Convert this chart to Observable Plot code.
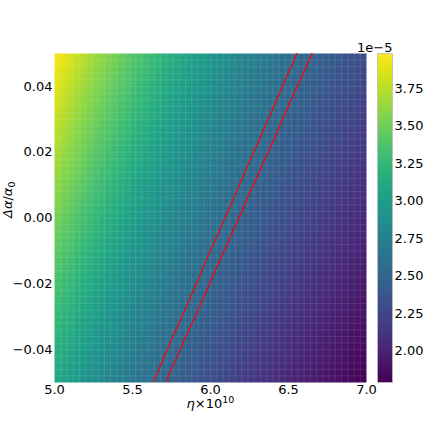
<!DOCTYPE html>
<html><head><meta charset="utf-8">
<script src="https://cdn.jsdelivr.net/npm/d3@7"></script>
<script src="https://cdn.jsdelivr.net/npm/@observablehq/plot@0.6"></script>
<style>
body{margin:0;background:#fff;}
#chart{position:relative;width:436px;height:436px;font-family:"DejaVu Sans",sans-serif;}
#chart svg{position:absolute;top:0;}
</style></head><body><div id="chart"></div>
<script>
// eta x 10^10 sample positions
const etaValues = [5.0, 5.25, 5.5, 5.75, 6.0, 6.25, 6.5, 6.75, 7.0];
// Delta alpha / alpha_0 sample positions
const alphaValues = [-0.05, -0.025, 0, 0.025, 0.05];
// D/H (units of 1e-5), rows follow alphaValues, columns follow etaValues
const dhRowM050 = [3.106, 2.867, 2.656, 2.469, 2.303, 2.154, 2.020, 1.898, 1.789];
const dhRowM025 = [3.317, 3.062, 2.838, 2.638, 2.460, 2.301, 2.157, 2.028, 1.910];
const dhRow000  = [3.534, 3.262, 3.022, 2.810, 2.620, 2.451, 2.299, 2.160, 2.036];
const dhRowP025 = [3.756, 3.468, 3.213, 2.987, 2.786, 2.605, 2.443, 2.296, 2.163];
const dhRowP050 = [3.984, 3.678, 3.407, 3.168, 2.954, 2.763, 2.591, 2.435, 2.294];
const dhRows = [dhRowM050, dhRowM025, dhRow000, dhRowP025, dhRowP050];
// observed D/H band (units of 1e-5)
const dhBand = [2.497, 2.557];
const xTicks = [5.0, 5.5, 6.0, 6.5, 7.0];
const yTicks = [-0.04, -0.02, 0.00, 0.02, 0.04];
const cTicks = [2.00, 2.25, 2.50, 2.75, 3.00, 3.25, 3.50, 3.75];
// mesh cell count along each axis (faint seams of the colour mesh)
const meshCells = 50;

const samples = alphaValues.flatMap((a, i) => etaValues.map((e, j) => ({eta: e, alpha: a, dh: dhRows[i][j]})));
const grid = dhRows.flat();
const nx = etaValues.length, ny = alphaValues.length;
const cDomain = d3.extent(samples, d => d.dh);
const xDom = d3.extent(etaValues), yDom = d3.extent(alphaValues);
const dx = (xDom[1] - xDom[0]) / (nx - 1), dy = (yDom[1] - yDom[0]) / (ny - 1);
const minus = s => s.replace("-", "\u2212");
const xEdges = d3.range(1, meshCells).map(i => xDom[0] + i * (xDom[1] - xDom[0]) / meshCells);
const yEdges = d3.range(1, meshCells).map(i => yDom[0] + i * (yDom[1] - yDom[0]) / meshCells);

const font = {fontFamily: "DejaVu Sans", fontSize: "13px", background: "transparent", color: "black"};

const main = Plot.plot({
  width: 436, height: 436,
  marginLeft: 54, marginRight: 70, marginTop: 53, marginBottom: 54,
  style: font,
  x: {domain: xDom, label: null},
  y: {domain: yDom, label: null},
  color: {type: "linear", scheme: "viridis", domain: cDomain},
  marks: [
    Plot.raster(samples, {x: "eta", y: "alpha", fill: "dh", interpolate: "barycentric",
      x1: xDom[0], x2: xDom[1], y1: yDom[0], y2: yDom[1]}),
    Plot.gridX(xEdges, {stroke: "white", strokeOpacity: 0.1, strokeWidth: 1}),
    Plot.gridY(yEdges, {stroke: "white", strokeOpacity: 0.1, strokeWidth: 1}),
    Plot.contour(grid, {width: nx, height: ny,
      x1: xDom[0] - dx / 2, x2: xDom[1] + dx / 2, y1: yDom[0] - dy / 2, y2: yDom[1] + dy / 2,
      thresholds: dhBand, clip: true,
      fill: "none", stroke: "red", strokeWidth: 1.2}),
    Plot.axisX({ticks: xTicks, tickFormat: d3.format(".1f"), tickSize: 0, tickPadding: 2, label: null}),
    Plot.axisY({ticks: yTicks, tickFormat: d => minus(d3.format(".2f")(d)), tickSize: 0, tickPadding: 2, label: null}),
    Plot.text(["η×10"], {frameAnchor: "bottom", dy: 25, fontSize: 13, className: "xlab"}),
    Plot.text(["Δα/α0"], {frameAnchor: "left", dx: -47, rotate: -90, fontSize: 13, className: "ylab"}),
    Plot.text(["1e\u22125"], {frameAnchor: "top-right", dx: 26, dy: -2, textAnchor: "end", lineAnchor: "bottom", fontSize: 13})
  ]
});
d3.select(main).selectAll(".xlab text").html(
  '<tspan font-style="italic">η</tspan>×10<tspan dy="-4.5" font-size="9.5">10</tspan>');
d3.select(main).selectAll(".ylab text").html(
  '<tspan font-style="italic">Δα</tspan>/<tspan font-style="italic">α</tspan><tspan dy="3" font-size="9.5">0</tspan>');

const bar = Plot.plot({
  width: 59, height: 436,
  marginLeft: 0, marginRight: 44, marginTop: 53, marginBottom: 54,
  style: font,
  x: {domain: [0, 1], axis: null},
  y: {domain: cDomain, label: null, axis: null},
  color: {type: "linear", scheme: "viridis", domain: cDomain},
  marks: [
    Plot.raster({fill: (x, y) => y, x1: 0, x2: 1, y1: cDomain[0], y2: cDomain[1]}),
    Plot.frame({stroke: "#bbb", strokeWidth: 0.8}),
    Plot.axisY({anchor: "right", ticks: cTicks, tickFormat: d3.format(".2f"), tickSize: 0, tickPadding: 2, label: null})
  ]
});
bar.style.left = "377px";
const el = document.getElementById("chart");
el.appendChild(main);
el.appendChild(bar);
</script></body></html>
